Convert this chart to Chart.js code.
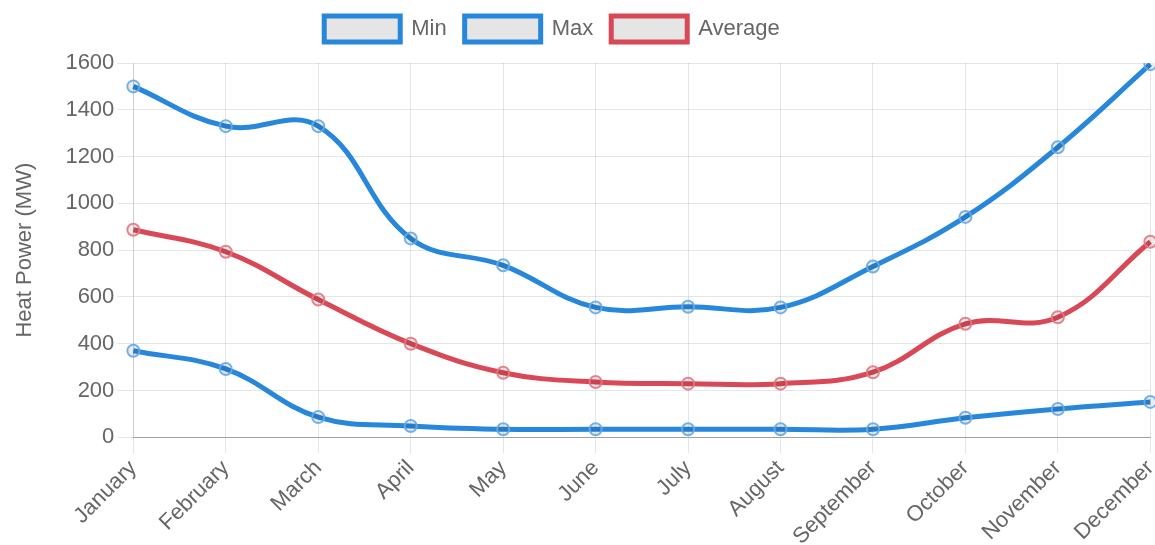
<!DOCTYPE html>
<html>
<head>
<meta charset="utf-8">
<script src="https://cdn.jsdelivr.net/npm/chart.js@4.4.0/dist/chart.umd.min.js"></script>
<style>
    html, body { margin: 0; padding: 0; background: #fff; overflow: hidden; }
    /* the canvas is a bit wider than the window; its edge strips stay off screen */
    #heatChart { display: block; margin-left: -50px; }
</style>
</head>
<body>
<canvas id="heatChart" width="1221" height="545"></canvas>
<script>
const months = ['January', 'February', 'March', 'April', 'May', 'June', 'July',
    'August', 'September', 'October', 'November', 'December'];

// heat power per month, MW
const minPower = [370, 292, 86, 48, 34, 34, 34, 34, 34, 83, 121, 151];
const maxPower = [1500, 1330, 1330, 850, 735, 555, 558, 555, 730, 942, 1240, 1595];
const avgPower = [887, 793, 589, 400, 276, 236, 229, 229, 278, 485, 513, 836];

const blue = '#2787db';
const red = '#d94857';

Chart.defaults.font.family = '"Liberation Sans", Arial, sans-serif';
Chart.defaults.font.size = 22;
Chart.defaults.color = '#666';

function series(label, data, color, ringColor) {
    return {
        label: label,
        data: data,
        borderColor: color,
        backgroundColor: 'rgba(0,0,0,0.1)',
        borderWidth: 5,
        fill: false,
        tension: 0.4,
        pointRadius: 6,
        pointBorderWidth: 2,
        pointBorderColor: ringColor,
        pointBackgroundColor: 'rgba(0,0,0,0.08)'
    };
}

// a bit more room between the legend and the plot
const legendMargin = {
    id: 'legendMargin',
    beforeInit(chart) {
        const fit = chart.legend.fit;
        chart.legend.fit = function () {
            fit.bind(chart.legend)();
            this.height += 11;
        };
    }
};

const ctx = document.getElementById('heatChart').getContext('2d');

const chart = new Chart(ctx, {
    type: 'line',
    data: {
        labels: months,
        datasets: [
            series('Min', minPower, blue, 'rgba(100,170,230,0.9)'),
            series('Max', maxPower, blue, 'rgba(100,170,230,0.9)'),
            series('Average', avgPower, red, 'rgba(225,120,130,0.9)')
        ]
    },
    plugins: [legendMargin],
    options: {
        responsive: false,
        animation: false,
        layout: {
            padding: { left: 0, right: 17, top: -2, bottom: -7 }
        },
        plugins: {
            legend: {
                labels: {
                    boxWidth: 76,
                    boxHeight: 26,
                    padding: 18
                }
            },
            tooltip: { enabled: false }
        },
        scales: {
            x: {
                grid: {
                    color: 'rgba(0,0,0,0.1)',
                    tickLength: 16
                },
                border: { color: 'rgba(0,0,0,0.3)' },
                ticks: {
                    maxRotation: 45,
                    minRotation: 45,
                    padding: 2
                }
            },
            y: {
                min: 0,
                max: 1600,
                grid: {
                    color: 'rgba(0,0,0,0.1)',
                    tickLength: 16
                },
                border: { color: 'rgba(0,0,0,0.1)' },
                ticks: {
                    stepSize: 200,
                    padding: 3,
                    callback: (value) => value
                },
                title: {
                    display: true,
                    text: 'Heat Power (MW)',
                    padding: { top: 62, bottom: 24 }
                }
            }
        }
    }
});
</script>
</body>
</html>
